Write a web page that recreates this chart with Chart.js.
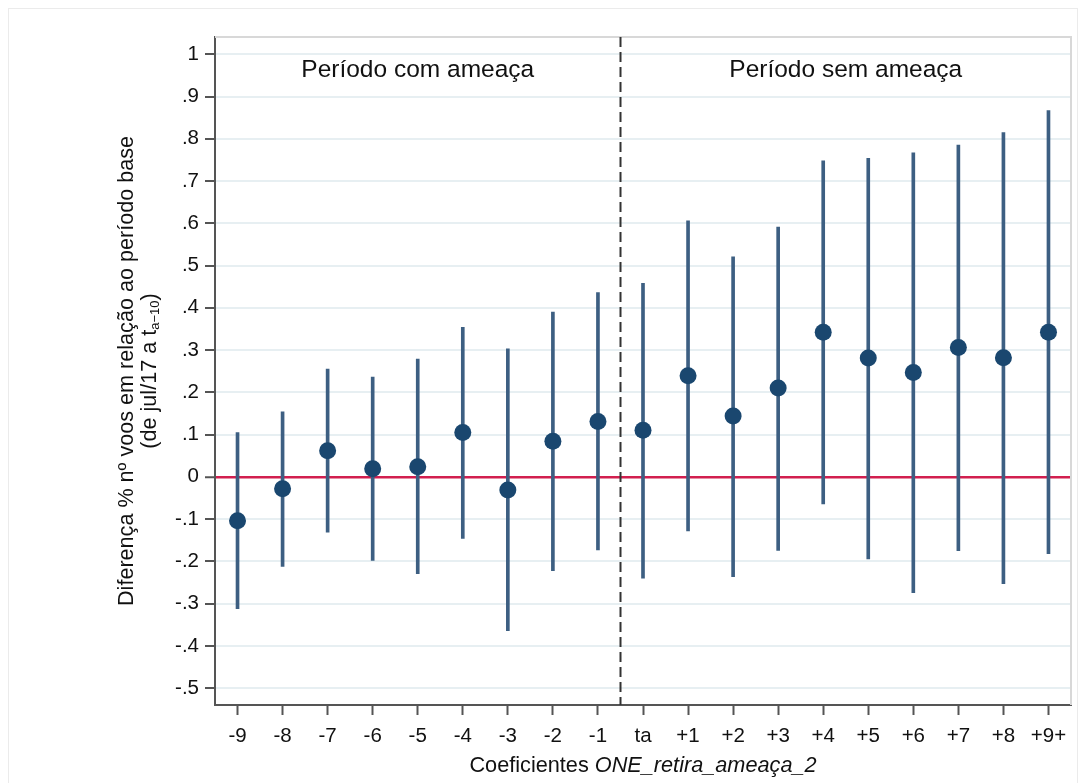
<!DOCTYPE html>
<html>
<head>
<meta charset="utf-8">
<script src="https://cdn.jsdelivr.net/npm/chart.js@4"></script>
<style>
  html, body { margin: 0; padding: 0; background: #ffffff; }
  #wrap { width: 1085px; height: 783px; position: relative; }
</style>
</head>
<body>
<div id="wrap"><canvas id="c"></canvas></div>
<script>
// ---- data ----
const categories = ['-9','-8','-7','-6','-5','-4','-3','-2','-1','ta','+1','+2','+3','+4','+5','+6','+7','+8','+9+'];
const coef   = [-0.104,-0.028,0.062,0.019,0.024,0.105,-0.031,0.084,0.131,0.110,0.239,0.144,0.210,0.342,0.281,0.247,0.306,0.282,0.342];
const ciLow  = [-0.312,-0.212,-0.131,-0.198,-0.229,-0.146,-0.364,-0.222,-0.173,-0.240,-0.128,-0.236,-0.174,-0.064,-0.194,-0.274,-0.175,-0.253,-0.182];
const ciHigh = [0.105,0.154,0.255,0.236,0.279,0.354,0.303,0.390,0.436,0.458,0.606,0.521,0.591,0.748,0.754,0.767,0.785,0.815,0.867];
const yTickValues = [1,0.9,0.8,0.7,0.6,0.5,0.4,0.3,0.2,0.1,0,-0.1,-0.2,-0.3,-0.4,-0.5];
const yTickLabels = ['1','.9','.8','.7','.6','.5','.4','.3','.2','.1','0','-.1','-.2','-.3','-.4','-.5'];
const periodLabels = ['Período com ameaça', 'Período sem ameaça'];
const breakAfterCategory = '-1';
const yTitleLine1 = 'Diferença % nº voos em relação ao período base';
const yTitleLine2 = ['(de jul/17 a t', 'a\u221210', ')'];
const xTitleParts = ['Coeficientes ', 'ONE_retira_ameaça_2'];

const FONT = '"Liberation Sans", Arial, Helvetica, sans-serif';

const decor = {
  id: 'decor',
  beforeDraw(chart) {
    const ctx = chart.ctx;
    ctx.save();
    ctx.strokeStyle = '#ebebeb';
    ctx.lineWidth = 1;
    ctx.strokeRect(8.5, 8.5, 1069, 790);
    ctx.restore();
  },
  beforeDatasetsDraw(chart) {
    const ctx = chart.ctx, a = chart.chartArea, x = chart.scales.x;
    const i = categories.indexOf(breakAfterCategory);
    const bx = Math.round((x.getPixelForValue(i) + x.getPixelForValue(i + 1)) / 2) + 0.5;
    ctx.save();
    ctx.strokeStyle = '#d8d8d8';
    ctx.lineWidth = 2;
    ctx.beginPath();
    ctx.moveTo(a.left, a.top); ctx.lineTo(a.right, a.top); ctx.lineTo(a.right, a.bottom);
    ctx.stroke();
    ctx.strokeStyle = '#333';
    ctx.lineWidth = 2;
    ctx.setLineDash([10, 5]);
    ctx.beginPath();
    ctx.moveTo(bx, a.top); ctx.lineTo(bx, a.bottom);
    ctx.stroke();
    ctx.setLineDash([]);
    ctx.fillStyle = '#111';
    ctx.font = '24.5px ' + FONT;
    ctx.textAlign = 'center';
    ctx.textBaseline = 'alphabetic';
    ctx.fillText(periodLabels[0], (a.left + bx) / 2, 77);
    ctx.fillText(periodLabels[1], (bx + a.right) / 2, 77);
    ctx.restore();
  },
  afterDraw(chart) {
    const ctx = chart.ctx, a = chart.chartArea;
    ctx.save();
    ctx.fillStyle = '#111';
    const cy = (a.top + a.bottom) / 2;
    ctx.save();
    ctx.translate(127, cy);
    ctx.rotate(-Math.PI / 2);
    ctx.font = '21.6px ' + FONT;
    ctx.textAlign = 'center';
    ctx.textBaseline = 'middle';
    ctx.fillText(yTitleLine1, 0, 0);
    ctx.restore();
    ctx.save();
    ctx.translate(150, cy);
    ctx.rotate(-Math.PI / 2);
    ctx.textBaseline = 'middle';
    ctx.textAlign = 'left';
    const fMain = '21.6px ' + FONT, fSub = '13px ' + FONT;
    ctx.font = fMain; const w1 = ctx.measureText(yTitleLine2[0]).width;
    ctx.font = fSub; const w2 = ctx.measureText(yTitleLine2[1]).width;
    ctx.font = fMain; const w3 = ctx.measureText(yTitleLine2[2]).width;
    let sx = -(w1 + w2 + w3) / 2;
    ctx.font = fMain; ctx.fillText(yTitleLine2[0], sx, 0); sx += w1;
    ctx.font = fSub; ctx.fillText(yTitleLine2[1], sx, 5); sx += w2;
    ctx.font = fMain; ctx.fillText(yTitleLine2[2], sx, 0);
    ctx.restore();
    const fN = '21.7px ' + FONT, fI = 'italic 21.7px ' + FONT;
    ctx.font = fN; const t1 = ctx.measureText(xTitleParts[0]).width;
    ctx.font = fI; const t2 = ctx.measureText(xTitleParts[1]).width;
    let tx = (a.left + a.right) / 2 - (t1 + t2) / 2;
    ctx.textAlign = 'left';
    ctx.textBaseline = 'middle';
    ctx.font = fN; ctx.fillText(xTitleParts[0], tx, 766);
    ctx.font = fI; ctx.fillText(xTitleParts[1], tx + t1, 766);
    ctx.restore();
  }
};

new Chart(document.getElementById('c'), {
  data: {
    labels: categories,
    datasets: [
      {
        type: 'bar',
        data: categories.map((c, i) => [ciLow[i], ciHigh[i]]),
        backgroundColor: '#3d5f82',
        borderWidth: 0,
        barThickness: 3,
        order: 2
      },
      {
        type: 'line',
        data: coef,
        showLine: false,
        pointRadius: 8.5,
        pointHoverRadius: 8.5,
        pointBackgroundColor: '#1a476f',
        pointBorderColor: '#1a476f',
        pointBorderWidth: 0,
        order: 1
      }
    ]
  },
  options: {
    responsive: true,
    maintainAspectRatio: false,
    animation: false,
    events: [],
    layout: { padding: { left: 0, right: 14, top: 37, bottom: 0 } },
    plugins: { legend: { display: false }, tooltip: { enabled: false } },
    scales: {
      x: {
        type: 'category',
        offset: true,
        grid: { offset: false, drawOnChartArea: false, drawTicks: true, tickLength: 10, tickColor: '#555', tickWidth: 2 },
        border: { color: '#555', width: 2 },
        ticks: { color: '#111', font: { size: 20.5, family: FONT }, padding: 9, maxRotation: 0, autoSkip: false },
        afterFit(s) { s.height = 78; }
      },
      y: {
        type: 'linear',
        min: -0.54,
        max: 1.041,
        afterBuildTicks(s) { s.ticks = yTickValues.map(v => ({ value: v })); },
        grid: {
          color: (c) => (c.tick && Math.abs(c.tick.value) < 1e-9) ? '#d21f4f' : '#e7eff2',
          lineWidth: (c) => (c.tick && Math.abs(c.tick.value) < 1e-9) ? 2.5 : 2,
          tickLength: 10, tickColor: '#555', tickWidth: 2
        },
        border: { color: '#555', width: 2 },
        ticks: {
          color: '#111', font: { size: 20.5, family: FONT }, padding: 6,
          callback: (v) => { const k = yTickValues.findIndex(t => Math.abs(t - v) < 1e-9); return k >= 0 ? yTickLabels[k] : ''; }
        },
        afterFit(s) { s.width = 215; }
      }
    }
  },
  plugins: [decor]
});
</script>
</body>
</html>
